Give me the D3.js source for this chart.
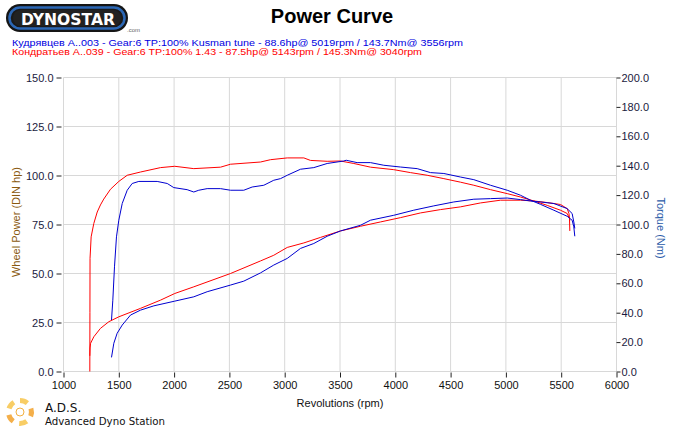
<!DOCTYPE html>
<html><head><meta charset="utf-8">
<script src="https://cdn.jsdelivr.net/npm/d3@7"></script>
<style>body{margin:0;background:#fff}svg{display:block}</style>
</head><body>
<svg id="c" width="685" height="428"></svg>
<script>
// ---- data ----
const rpmTicks = [1000,1500,2000,2500,3000,3500,4000,4500,5000,5500,6000];
const powerTicks = [0,25,50,75,100,125,150];
const torqueTicks = [0,20,40,60,80,100,120,140,160,180,200];

const redTorqueRpm = [1238,1239,1240,1250,1274,1305,1334,1364,1425,1500,1576,1696,1877,2006,2178,2420,2510,2781,2872,3023,3173,3233,3384,3504,3625,3776,3986,4137,4288,4439,4589,4710,4861,5012,5132,5253,5374,5494,5554,5575,5578];
const redTorqueNm  = [0,40,77,91.6,100.7,108.5,113.3,117.3,124,129.3,133.5,135.7,138.7,139.6,138,139,141,142.5,144.1,145.3,145.3,143.6,143,143.2,141.5,139,137.3,135.3,133.5,131.2,128.8,126.7,123.7,121,118.7,116,113,109.7,107.5,104,95.6];

const redPowerRpm = [1238,1240,1245,1274,1334,1410,1500,1696,1877,2006,2178,2510,2781,2901,3023,3173,3323,3504,3685,3866,4047,4228,4408,4589,4770,4951,5132,5253,5374,5494,5554,5570,5578];
const redPowerHp  = [8,12,14.4,17.7,22,25.4,27.9,32.2,36.4,39.8,43.2,50,56.4,59.3,63.3,65.6,68.4,71.7,74.1,76.3,78.5,80.9,82.6,84,86,87.4,87.4,87,86.2,85.2,83.1,80.6,77];

const blueTorqueRpm = [1434,1446,1461,1479,1500,1531,1576,1621,1681,1847,1938,1997,2118,2178,2223,2299,2420,2510,2630,2706,2811,2901,2962,3023,3143,3263,3384,3534,3556,3655,3776,3896,4047,4198,4318,4439,4589,4710,4861,5012,5132,5223,5313,5434,5554,5599,5614,5623];
const blueTorqueNm  = [35,48.5,71.2,91.6,102.9,114.3,123.3,127.9,129.3,129.3,127.9,125.1,123.7,122.1,123.3,124.4,124.4,123.3,123.3,125.5,126.7,130.1,131.2,133.5,137.6,138.7,141.5,143.2,143.7,142.1,142.1,140.3,139.1,138,135.3,134.7,132.3,130.5,126.7,123.3,119.9,116.5,113.7,109.7,105.6,102.9,98.4,92];

const bluePowerRpm = [1434,1455,1485,1531,1606,1696,1817,2006,2178,2299,2510,2630,2781,2901,3023,3143,3263,3384,3504,3685,3776,3986,4167,4348,4529,4710,4861,5012,5132,5223,5313,5434,5554,5599,5614,5623];
const bluePowerHp  = [7.2,14.4,19.5,23.7,28.8,31.3,33.5,35.9,38.1,40.7,44.1,46.1,50.3,54.3,57.7,62.8,65.3,69,71.7,74.6,77.2,79.7,82.3,84.5,86.5,87.9,88.2,88.5,87.7,87,86.5,85.7,83.1,80.6,76.3,73];

const titleText = "Power Curve";
const legendBlue = "Кудрявцев A..003 - Gear:6 TP:100% Kusman tune  - 88.6hp@ 5019rpm / 143.7Nm@ 3556rpm";
const legendRed  = "Кондратьев A..039 - Gear:6 TP:100% 1.43  - 87.5hp@ 5143rpm / 145.3Nm@ 3040rpm";

// ---- drawing ----
const svg = d3.select("#c");
const F = "Liberation Sans, Arial, sans-serif";
const x = d3.scaleLinear().domain([1000,6000]).range([63.5,616.5]);
const yP = d3.scaleLinear().domain([0,150]).range([371.5,77.5]);
const yT = d3.scaleLinear().domain([0,200]).range([371.5,77.5]);

const grid = svg.append("g").attr("stroke","#d8d8d8").attr("stroke-width",1);
grid.selectAll(".v").data(rpmTicks).join("line")
  .attr("x1",d=>x(d)).attr("x2",d=>x(d)).attr("y1",yP(150)).attr("y2",yP(0));
grid.selectAll(".h").data(powerTicks).join("line")
  .attr("x1",x(1000)).attr("x2",x(6000)).attr("y1",d=>yP(d)).attr("y2",d=>yP(d));

// left axis
const axL = svg.append("g").attr("transform",`translate(${x(1000)-2},0)`)
  .call(d3.axisLeft(yP).tickValues(powerTicks).tickFormat(d3.format(".1f")).tickSize(5).tickPadding(3));
axL.select(".domain").remove();
axL.selectAll("text").attr("font-family",F).attr("font-size",11).attr("fill","#1a1a40");
axL.selectAll("line").attr("stroke","#222");

// right axis
const axR = svg.append("g").attr("transform",`translate(${x(6000)},0)`)
  .call(d3.axisRight(yT).tickValues(torqueTicks).tickFormat(d3.format(".1f")).tickSize(4).tickPadding(1));
axR.select(".domain").remove();
axR.selectAll("text").attr("font-family",F).attr("font-size",11).attr("fill","#1a1a40");
axR.selectAll("line").attr("stroke","#222");

// bottom axis
const axB = svg.append("g").attr("transform",`translate(0,${yP(0)+1})`)
  .call(d3.axisBottom(x).tickValues(rpmTicks).tickFormat(d3.format("d")).tickSize(5).tickPadding(4));
axB.select(".domain").remove();
axB.selectAll("text").attr("font-family",F).attr("font-size",11).attr("fill","#111");
axB.selectAll("line").attr("stroke","#222");

// curves
const plot = svg.append("g").attr("fill","none").attr("stroke-width",1);
function draw(rpms, vals, ys, color){
  const pts = rpms.map((r,i)=>[r,vals[i]]);
  plot.append("path").datum(pts).attr("stroke",color)
    .attr("d", d3.line().x(d=>x(d[0])).y(d=>ys(d[1])));
}
draw(redTorqueRpm, redTorqueNm, yT, "#ff0000");
draw(redPowerRpm, redPowerHp, yP, "#ff0000");
draw(blueTorqueRpm, blueTorqueNm, yT, "#0000d0");
draw(bluePowerRpm, bluePowerHp, yP, "#0000d0");

// titles
svg.append("text").attr("x",332).attr("y",23).attr("text-anchor","middle")
  .attr("font-family",F).attr("font-weight","bold").attr("font-size",20).attr("fill","#000").text(titleText);
svg.append("text").attr("x",12).attr("y",45.5).attr("font-family",F).attr("font-size",8.5)
  .attr("fill","#0000e0").attr("textLength",451).attr("lengthAdjust","spacingAndGlyphs").text(legendBlue);
svg.append("text").attr("x",12).attr("y",54.5).attr("font-family",F).attr("font-size",8.5)
  .attr("fill","#ff0000").attr("textLength",410).attr("lengthAdjust","spacingAndGlyphs").text(legendRed);

svg.append("text").attr("transform","translate(20,222) rotate(-90)").attr("text-anchor","middle")
  .attr("font-family",F).attr("font-size",11).attr("fill","#8a5a10").text("Wheel Power (DIN hp)");
svg.append("text").attr("transform","translate(657,228) rotate(90)").attr("text-anchor","middle")
  .attr("font-family",F).attr("font-size",11).attr("fill","#2a5aa8").text("Torque (Nm)");
svg.append("text").attr("x",340).attr("y",407).attr("text-anchor","middle")
  .attr("font-family",F).attr("font-size",11).attr("fill","#111").text("Revolutions (rpm)");

// Dynostar logo
const lg = svg.append("g");
lg.append("rect").attr("x",6).attr("y",4).attr("width",122).attr("height",28).attr("rx",14).attr("fill","#151515");
lg.append("rect").attr("x",9.5).attr("y",7.5).attr("width",115).attr("height",21).attr("rx",10.5)
  .attr("fill","#1a1a1a").attr("stroke","#2b67b5").attr("stroke-width",2.5);
lg.append("rect").attr("x",13).attr("y",10).attr("width",108).attr("height",16).attr("rx",8).attr("fill","#222");
lg.append("text").attr("x",21).attr("y",25).attr("font-family","DejaVu Sans, sans-serif").attr("font-weight","bold")
  .attr("font-size",16).attr("fill","#fff").attr("textLength",94).attr("lengthAdjust","spacingAndGlyphs").text("DYNOSTAR");
lg.append("text").attr("x",127).attr("y",32).attr("font-family",F).attr("font-size",6).attr("fill","#666").text(".com");

// ADS logo
const ads = svg.append("g").attr("transform","translate(20,412)");
const arcG = d3.arc();
[0,72,144,216,288].forEach((a,i)=>{
  ads.append("path").attr("d", arcG({innerRadius:9,outerRadius:14,startAngle:(a)*Math.PI/180,endAngle:(a+40)*Math.PI/180}))
    .attr("fill", i%2 ? "#f2a12a" : "#f7c44a").attr("opacity",0.85);
});
ads.append("circle").attr("r",4).attr("fill","none").attr("stroke","#f3b040").attr("stroke-width",1);
svg.append("text").attr("x",45).attr("y",412).attr("font-family","DejaVu Sans, sans-serif").attr("font-size",12)
  .attr("fill","#111").text("A.D.S.");
svg.append("text").attr("x",45).attr("y",424.5).attr("font-family","DejaVu Sans, sans-serif").attr("font-size",10)
  .attr("fill","#111").attr("textLength",120).attr("lengthAdjust","spacingAndGlyphs").text("Advanced Dyno Station");
</script>
</body></html>
